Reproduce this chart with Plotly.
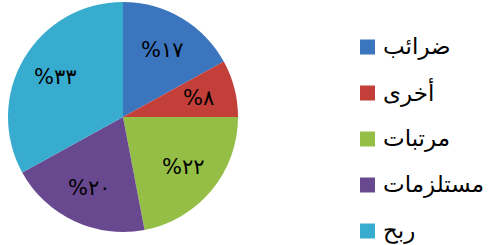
import math
import plotly.graph_objects as go

labels = ["ضرائب", "أخرى", "مرتبات", "مستلزمات", "ربح"]
values = [17, 8, 22, 20, 33]
text_labels = ["%١٧", "%٨", "%٢٢", "%٢٠", "%٣٣"]
colors = ["#3B75BE", "#C23F3A", "#94BE46", "#68498F", "#38ACCF"]

W, H = 499, 245
dom_x = [8 / W, 238 / W]
dom_y = [13 / H, 243 / H]

fig = go.Figure()
fig.add_trace(go.Pie(
    labels=labels, values=values, textinfo="none",
    sort=False, direction="clockwise", rotation=0,
    marker=dict(colors=colors, line=dict(width=0)),
    showlegend=False, hoverinfo="label+percent",
    domain=dict(x=dom_x, y=dom_y),
))

# slice labels placed along each slice's mid-angle
cx = (dom_x[0] + dom_x[1]) / 2 * W
cy = (1 - (dom_y[0] + dom_y[1]) / 2) * H
R = min((dom_x[1] - dom_x[0]) * W, (dom_y[1] - dom_y[0]) * H) / 2
total = sum(values)
cum = 0
for v, t in zip(values, text_labels):
    mid = (cum + v / 2) / total * 2 * math.pi
    cum += v
    px = cx + 0.68 * R * math.sin(mid)
    py = cy - 0.68 * R * math.cos(mid)
    fig.add_annotation(x=px / W, y=1 - py / H, xref="paper", yref="paper",
                       text=t, showarrow=False, xanchor="center", yanchor="middle",
                       font=dict(family="DejaVu Sans", size=21, color="black"))

# legend drawn from the label list
y0 = 47
step = 46
for i, (lab, col) in enumerate(zip(labels, colors)):
    yc = y0 + i * step
    fig.add_shape(type="rect", xref="paper", yref="paper",
                  x0=360 / W, x1=375 / W,
                  y0=1 - (yc + 7.5) / H, y1=1 - (yc - 7.5) / H,
                  fillcolor=col, line=dict(width=0))
    fig.add_annotation(x=381 / W, y=1 - (yc - 1) / H, xref="paper", yref="paper",
                       text=lab, showarrow=False, xanchor="left", yanchor="middle",
                       font=dict(family="DejaVu Sans", size=23, color="black"))

fig.update_layout(width=W, height=H, margin=dict(l=0, r=0, t=0, b=0),
                  paper_bgcolor="white", plot_bgcolor="white")
fig.write_html("out.html", config={"displayModeBar": False},
               post_script="document.body.style.margin='0';")
